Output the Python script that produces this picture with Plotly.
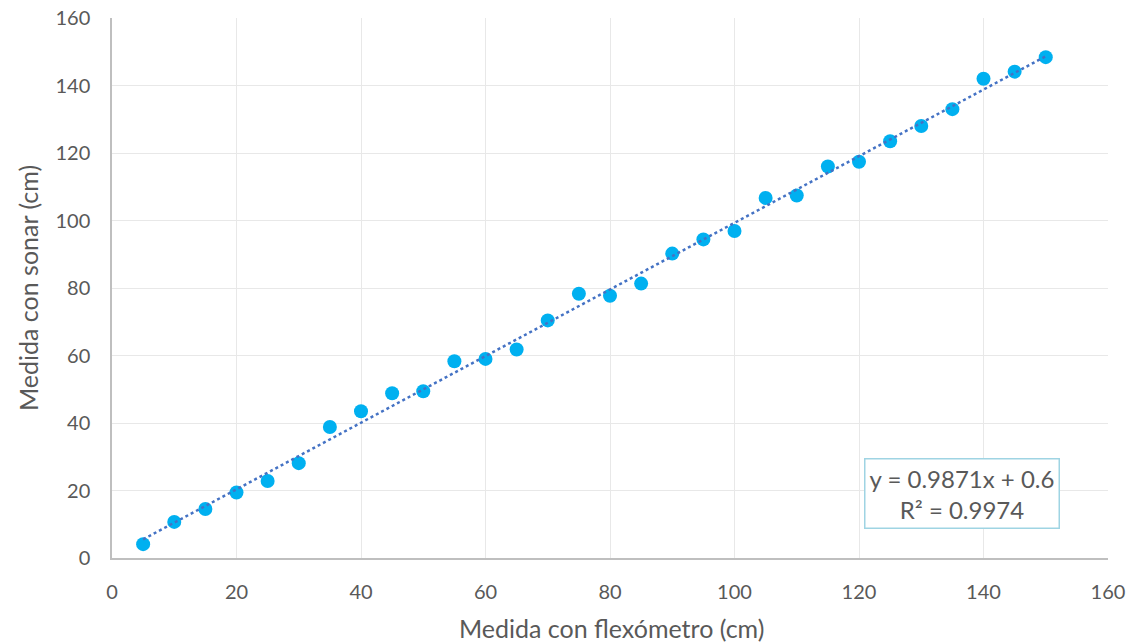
import numpy as np
import plotly.graph_objects as go

x_vals = [5, 10, 15, 20, 25, 30, 35, 40, 45, 50, 55, 60, 65, 70, 75,
          80, 85, 90, 95, 100, 105, 110, 115, 120, 125, 130, 135, 140, 145, 150]
y_vals = [4.1, 10.7, 14.5, 19.4, 22.8, 28.1, 38.8, 43.5, 48.8, 49.4, 58.3, 59.0, 61.8, 70.4, 78.3,
          77.7, 81.3, 90.2, 94.4, 96.9, 106.7, 107.4, 116.0, 117.4, 123.5, 128.0, 133.0, 142.0, 144.1, 148.4]
slope = 0.9871
intercept = 0.6
r2 = 0.9974
x_title = "Medida con flexómetro (cm)"
y_title = "Medida con sonar (cm)"

xt = np.array([min(x_vals), max(x_vals)], dtype=float)
yt = slope * xt + intercept

font_family = "Lato, 'Open Sans', sans-serif"
txt = "#595959"

fig = go.Figure()
fig.add_trace(go.Scatter(x=x_vals, y=y_vals, mode="markers",
                         marker=dict(color="#00b0f0", size=14, line=dict(width=0)),
                         showlegend=False))
fig.add_trace(go.Scatter(x=xt, y=yt, mode="lines",
                         line=dict(color="#4472c4", width=2.5, dash="dot"),
                         showlegend=False))

fig.add_annotation(xref="paper", yref="paper", x=0.8535, y=0.119,
                   text=f"y = {slope}x + {intercept}<br>R² = {r2}",
                   showarrow=False, align="center",
                   font=dict(family=font_family, size=24, color=txt),
                   bordercolor="#9fd4e3", borderwidth=1.5, borderpad=4,
                   bgcolor="white", xanchor="center", yanchor="middle")

fig.add_annotation(xref="paper", yref="paper", x=0.502, y=-0.1296,
                   text=x_title, showarrow=False, xanchor="center", yanchor="middle",
                   font=dict(family=font_family, size=25, color=txt))
fig.add_annotation(xref="paper", yref="paper", x=-0.0843, y=0.5,
                   text=y_title, showarrow=False, xanchor="center", yanchor="middle",
                   textangle=-90,
                   font=dict(family=font_family, size=25, color=txt))

axis_common = dict(range=[0, 160], dtick=20, showgrid=True, gridcolor="#e8e8e8",
                   gridwidth=1, zeroline=False, showline=True, linecolor="#bfbfbf",
                   linewidth=1.5, ticks="", automargin=False,
                   tickfont=dict(family=font_family, size=20, color=txt))

fig.update_layout(
    width=1135, height=643,
    margin=dict(l=112, r=27, t=18, b=85, autoexpand=False),
    plot_bgcolor="white", paper_bgcolor="white",
    xaxis=dict(**axis_common, ticklabelstandoff=15),
    yaxis=dict(**axis_common, ticklabelstandoff=16),
)

fig.write_html("out.html",
               config={"displayModeBar": False},
               post_script="document.body.style.margin='0';document.body.style.overflow='hidden';")
